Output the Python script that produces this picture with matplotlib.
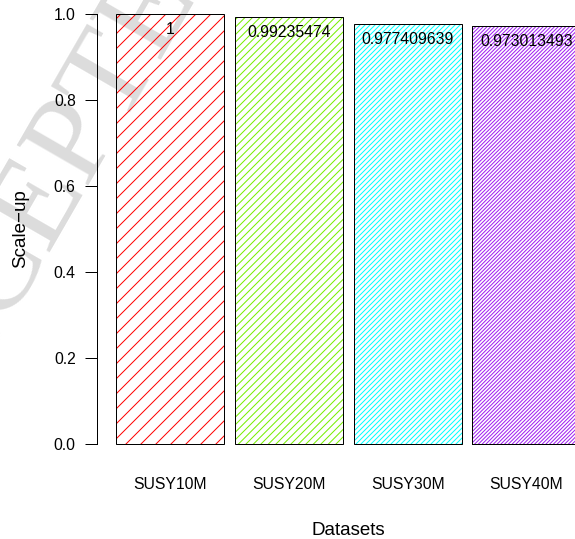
import matplotlib
matplotlib.use("Agg")
import matplotlib.pyplot as plt

# data
datasets = ["SUSY10M", "SUSY20M", "SUSY30M", "SUSY40M"]
scaleup = [1.0, 0.99235474, 0.977409639, 0.973013493]
value_labels = ["1", "0.99235474", "0.977409639", "0.973013493"]
bar_colors = ["#FF0000", "#76EE00", "#00FFFF", "#A020F0"]
hatches = ["/", "//", "///", "////"]
yticks = [0.0, 0.2, 0.4, 0.6, 0.8, 1.0]

plt.rcParams["font.family"] = ["Liberation Sans", "DejaVu Sans"]
plt.rcParams["hatch.linewidth"] = 1.6

# hatch cell is one inch at the figure dpi, so dpi 45 gives R-like line spacing
W, H, DPI = 575, 539, 45
fig = plt.figure(figsize=(W / DPI, H / DPI), dpi=DPI)

# R-style plot region: xlim/ylim padded by 4%
x0, x1 = -0.072, 4.572
y0, y1 = -0.04, 1.04
left_px, right_px = 97.4, 599.0
top_px, bottom_px = -3.2, 461.2
ax = fig.add_axes([left_px / W, (H - bottom_px) / H,
                   (right_px - left_px) / W, (bottom_px - top_px) / H])
ax.set_facecolor("none")

# faint watermark behind the chart
fig.text(-80 / W, 1 - 478 / H, "ACCEPTED MANUSCRIPT", family="Liberation Serif",
         fontsize=200, color="#dcdcdc", rotation=60, rotation_mode="anchor",
         ha="left", va="baseline", zorder=-5)

pos = [0.6 + 1.1 * i for i in range(len(datasets))]
# hatch layer (edge colour = hatch colour) then black outline
ax.bar(pos, scaleup, width=1.0, facecolor="none", edgecolor=bar_colors,
       hatch=hatches, linewidth=0, clip_on=False)
ax.bar(pos, scaleup, width=1.0, facecolor="none", edgecolor="black",
       linewidth=1.6, clip_on=False)

for x, v, lab in zip(pos, scaleup, value_labels):
    ax.text(x, v - 0.036, lab, ha="center", va="center", fontsize=25.3)

ax.set_xlim(x0, x1)
ax.set_ylim(y0, y1)
ax.set_xticks(pos)
ax.set_xticklabels(datasets)
ax.set_yticks(yticks)
ax.set_yticklabels([f"{t:.1f}" for t in yticks])
ax.tick_params(axis="x", length=0, pad=25.7, labelsize=25.3)
ax.tick_params(axis="y", length=18.7, width=1.6, pad=16, labelsize=25.3)

for s in ["top", "right", "bottom"]:
    ax.spines[s].set_visible(False)
ax.spines["left"].set_bounds(0, 1)
ax.spines["left"].set_linewidth(1.6)

ax.set_xlabel("Datasets", fontsize=30, labelpad=48)
ax.set_ylabel("Scale\u2212up", fontsize=30, labelpad=39.2)

fig.savefig("out.png", dpi=DPI)
